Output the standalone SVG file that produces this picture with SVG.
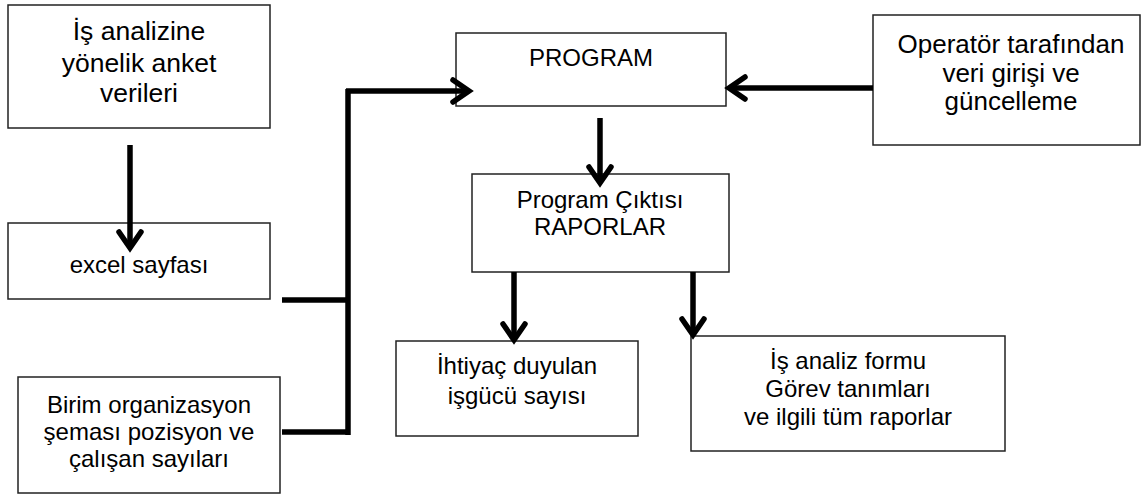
<svg xmlns="http://www.w3.org/2000/svg" width="1141" height="496" viewBox="0 0 1141 496">
<style>
.box{fill:#fff;stroke:#222;stroke-width:1.5}
.t{font-family:"Liberation Sans",Arial,sans-serif;fill:#000;text-anchor:middle}
.c{fill:none;stroke:#000;stroke-width:5.5;stroke-linecap:butt}
</style>
<defs>
<marker id="ah" markerUnits="userSpaceOnUse" markerWidth="30" markerHeight="30" viewBox="-20 -15 25 30" refX="0" refY="0" orient="auto" overflow="visible">
<path d="M-16,-11 L0,0 L-16,11" fill="none" stroke="#000" stroke-width="5.5" stroke-linecap="round" stroke-linejoin="miter"/>
</marker>
</defs>
<rect width="1141" height="496" fill="#fff"/>
<g id="n-anket">
<rect class="box" x="8" y="5" width="262" height="123"/>
<text class="t" font-size="26.5"><tspan x="139" y="40">İş analizine</tspan><tspan x="139" y="72">yönelik anket</tspan><tspan x="139" y="102">verileri</tspan></text>
</g>
<g id="n-excel">
<rect class="box" x="8" y="223" width="262" height="76"/>
<text class="t" font-size="24" x="139" y="273">excel sayfası</text>
</g>
<g id="n-birim">
<rect class="box" x="18" y="377" width="262" height="116"/>
<text class="t" font-size="24"><tspan x="149" y="413">Birim organizasyon</tspan><tspan x="149" y="440">şeması pozisyon ve</tspan><tspan x="149" y="467">çalışan sayıları</tspan></text>
</g>
<g id="n-program">
<rect class="box" x="456" y="33" width="270" height="73"/>
<text class="t" font-size="24" x="591" y="66">PROGRAM</text>
</g>
<g id="n-operator">
<rect class="box" x="873" y="15" width="267" height="130"/>
<text class="t" font-size="26"><tspan x="1011" y="53">Operatör tarafından</tspan><tspan x="1011" y="82">veri girişi ve</tspan><tspan x="1011" y="110">güncelleme</tspan></text>
</g>
<g id="n-cikti">
<rect class="box" x="472" y="174" width="257" height="98"/>
<text class="t" font-size="24"><tspan x="600" y="208">Program Çıktısı</tspan><tspan x="600" y="235">RAPORLAR</tspan></text>
</g>
<g id="n-ihtiyac">
<rect class="box" x="396" y="341" width="242" height="95"/>
<text class="t" font-size="24"><tspan x="517" y="374">İhtiyaç duyulan</tspan><tspan x="517" y="404">işgücü sayısı</tspan></text>
</g>
<g id="n-isanaliz">
<rect class="box" x="691" y="336" width="314" height="115"/>
<text class="t" font-size="24"><tspan x="848" y="369">İş analiz formu</tspan><tspan x="848" y="397">Görev tanımları</tspan><tspan x="848" y="425">ve ilgili tüm raporlar</tspan></text>
</g>
<g id="connectors">
<line class="c" x1="130" y1="145" x2="130" y2="248" marker-end="url(#ah)"/>
<line class="c" x1="282" y1="300" x2="350" y2="300"/>
<line class="c" x1="282" y1="432" x2="350" y2="432"/>
<line class="c" x1="348" y1="89" x2="348" y2="435"/>
<line class="c" x1="346" y1="91" x2="469" y2="91" marker-end="url(#ah)"/>
<line class="c" x1="873" y1="88" x2="729" y2="88" marker-end="url(#ah)"/>
<line class="c" x1="600" y1="118" x2="600" y2="183" marker-end="url(#ah)"/>
<line class="c" x1="514" y1="272" x2="514" y2="340" marker-end="url(#ah)"/>
<line class="c" x1="693" y1="272" x2="693" y2="335" marker-end="url(#ah)"/>
</g>
</svg>
